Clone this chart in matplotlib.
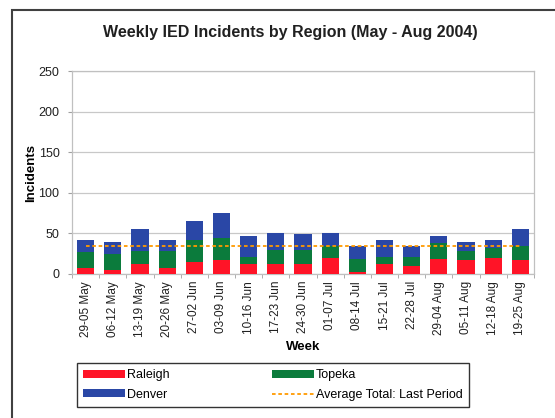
import numpy as np
import matplotlib
matplotlib.use("Agg")
import matplotlib.pyplot as plt
from matplotlib.patches import Rectangle

plt.rcParams['font.family'] = ['Liberation Sans', 'DejaVu Sans']

# weekly data
weeks = ["29-05 May", "06-12 May", "13-19 May", "20-26 May", "27-02 Jun", "03-09 Jun",
         "10-16 Jun", "17-23 Jun", "24-30 Jun", "01-07 Jul", "08-14 Jul", "15-21 Jul",
         "22-28 Jul", "29-04 Aug", "05-11 Aug", "12-18 Aug", "19-25 Aug"]
raleigh = [7, 5, 12, 8, 15, 17, 12, 12, 12, 20, 3, 12, 10, 18, 17, 20, 17]
topeka = [20, 20, 16, 20, 27, 27, 9, 17, 18, 14, 15, 9, 11, 20, 11, 12, 17]
denver = [15, 15, 27, 14, 23, 31, 26, 21, 19, 16, 17, 21, 14, 9, 12, 10, 21]
avg_last_period = 35

colors = {
    "raleigh": "#ff1427",
    "topeka": "#0b7b3c",
    "denver": "#2a47a6",
    "avg": "#ff9a00",
}

fig = plt.figure(figsize=(5.55, 4.18), dpi=100)
ax = fig.add_axes([72/555, 1-274/418, 462/555, 203/418])

x = np.arange(len(weeks))
r = np.array(raleigh)
t = np.array(topeka)
d = np.array(denver)
w = 0.63
b1 = ax.bar(x, r, w, color=colors["raleigh"], label="Raleigh", zorder=3)
b2 = ax.bar(x, t, w, bottom=r, color=colors["topeka"], label="Topeka", zorder=3)
b3 = ax.bar(x, d, w, bottom=r + t, color=colors["denver"], label="Denver", zorder=3)
ln, = ax.plot(x, [avg_last_period] * len(x), color=colors["avg"], lw=1.3,
              ls=(0, (2, 1.5)), label="Average Total: Last Period", zorder=4)

ax.set_xlim(-0.5, len(weeks) - 0.5)
ax.set_ylim(0, 250)
ax.set_yticks(range(0, 251, 50))
ax.yaxis.grid(True, color="#c8c8c8", lw=0.9, zorder=0)
ax.set_axisbelow(True)
for s in ax.spines.values():
    s.set_color("#c0c0c0")
    s.set_linewidth(0.9)

ax.set_xticks(x)
ax.set_xticklabels(weeks, rotation=90, fontsize=8.5, color="#202020")
ax.set_xticks(np.arange(len(weeks) + 1) - 0.5, minor=True)
ax.tick_params(axis="x", which="major", length=0, pad=5)
ax.tick_params(axis="x", which="minor", length=3, color="#a0a0a0")
ax.tick_params(axis="y", length=3, color="#a0a0a0", labelsize=9, labelcolor="#202020", pad=6)

ax.set_xlabel("Week", fontsize=9.5, fontweight="bold", labelpad=3)
ax.set_ylabel("Incidents", fontsize=9.5, fontweight="bold", labelpad=1)

fig.text(290/555, 1-32/418, "Weekly IED Incidents by Region (May - Aug 2004)",
         ha="center", va="center", fontsize=11.5, fontweight="bold", color="#202020")

leg = fig.legend([b1, b3, b2, ln], ["Raleigh", "Denver", "Topeka", "Average Total: Last Period"],
                 ncol=2, loc="lower left", mode="expand",
                 bbox_to_anchor=(77/555, 11/418, 392/555, 45/418),
                 fontsize=9, frameon=True, fancybox=False, edgecolor="black",
                 handlelength=3.3, handleheight=0.6, handletextpad=0.2,
                 borderaxespad=0, borderpad=0.5, labelspacing=0.6)
leg.get_frame().set_linewidth(1.0)

# outer chart border
fig.patches.append(Rectangle((12/555, -0.1), 1.2, 1.1 - 10/418, transform=fig.transFigure,
                             fill=False, edgecolor="#404040", lw=1.5))

fig.savefig("out.png", dpi=100)
